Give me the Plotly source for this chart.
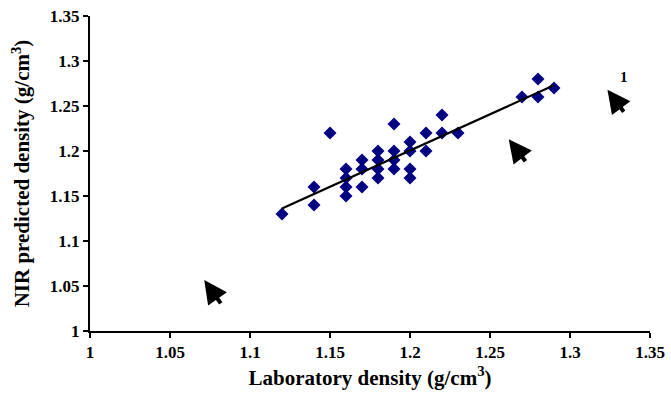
import plotly.graph_objects as go

lab_density = [1.12, 1.14, 1.14, 1.15, 1.16, 1.16, 1.16, 1.16, 1.17, 1.17, 1.17,
               1.18, 1.18, 1.18, 1.18, 1.19, 1.19, 1.19, 1.19, 1.20, 1.20, 1.20, 1.20,
               1.21, 1.21, 1.22, 1.22, 1.23, 1.27, 1.28, 1.28, 1.29]
nir_density = [1.13, 1.16, 1.14, 1.22, 1.18, 1.17, 1.16, 1.15, 1.19, 1.18, 1.16,
               1.20, 1.19, 1.18, 1.17, 1.23, 1.20, 1.19, 1.18, 1.21, 1.20, 1.18, 1.17,
               1.22, 1.20, 1.24, 1.22, 1.22, 1.26, 1.28, 1.26, 1.27]

trend_x = [1.12, 1.29]
trend_y = [1.136, 1.273]

# cursor-like arrows: tip and tail positions
arrow_tip_x = [1.0714, 1.2617, 1.3234]
arrow_tip_y = [1.0567, 1.213, 1.268]
arrow_tail_x = [1.0824, 1.2729, 1.3343]
arrow_tail_y = [1.029, 1.187, 1.242]

label_text = "1"
label_x = 1.334
label_y = 1.2826

ticks = [1, 1.05, 1.1, 1.15, 1.2, 1.25, 1.3, 1.35]
tick_text = ["1", "1.05", "1.1", "1.15", "1.2", "1.25", "1.3", "1.35"]

FONT = "Liberation Serif"

fig = go.Figure()
fig.add_trace(go.Scatter(
    x=lab_density, y=nir_density, mode="markers",
    marker=dict(symbol="diamond", size=10, color="#000080"),
    showlegend=False, cliponaxis=False))
fig.add_trace(go.Scatter(
    x=trend_x, y=trend_y, mode="lines",
    line=dict(color="black", width=2.2), showlegend=False))

annotations = []
for tx, ty, ax, ay in zip(arrow_tip_x, arrow_tip_y, arrow_tail_x, arrow_tail_y):
    annotations.append(dict(
        x=tx, y=ty, ax=ax, ay=ay, xref="x", yref="y", axref="x", ayref="y",
        text="", showarrow=True, arrowhead=2, arrowsize=1.15, arrowwidth=4,
        arrowcolor="black", standoff=0))
annotations.append(dict(
    x=label_x, y=label_y, xref="x", yref="y", text="<b>%s</b>" % label_text,
    showarrow=False, font=dict(family=FONT, size=15, color="black"),
    xanchor="center"))

fig.update_layout(
    width=671, height=394,
    margin=dict(l=90, r=21, t=16, b=63),
    plot_bgcolor="white", paper_bgcolor="white",
    font=dict(family=FONT, size=17, color="black"),
    annotations=annotations,
    xaxis=dict(
        range=[1, 1.35], tickvals=ticks, ticktext=["<b>%s</b>" % t for t in tick_text],
        showline=True, linecolor="black", linewidth=2, ticks="outside",
        ticklen=5, tickwidth=2, tickcolor="black", showgrid=False, zeroline=False,
        automargin=False,
        title=dict(text="<b>Laboratory density (g/cm<sup>3</sup>)</b>",
                   font=dict(family=FONT, size=21), standoff=9),
        tickfont=dict(family=FONT, size=17)),
    yaxis=dict(
        range=[1, 1.35], tickvals=ticks, ticktext=["<b>%s</b>" % t for t in tick_text],
        showline=True, linecolor="black", linewidth=2, ticks="outside",
        ticklen=5, tickwidth=2, tickcolor="black", showgrid=False, zeroline=False,
        automargin=False,
        title=dict(text="<b>NIR predicted density (g/cm<sup>3</sup>)</b>",
                   font=dict(family=FONT, size=21), standoff=14),
        tickfont=dict(family=FONT, size=17)),
)

fig.write_html("out.html", config={"displayModeBar": False},
               post_script="document.body.style.margin='0';document.body.style.padding='0';")
